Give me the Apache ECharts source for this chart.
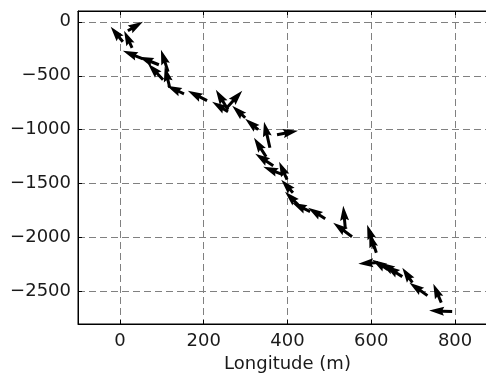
<!DOCTYPE html>
<html><head><meta charset="utf-8">
<script src="https://cdn.jsdelivr.net/npm/echarts@6/dist/echarts.min.js"></script>
<style>html,body{margin:0;padding:0;background:#fff}#c{width:486px;height:374px}</style>
</head><body><div id="c"></div>
<script>
// Axis ranges and labels
const xRange = [-100, 900];
const yRange = [-2800, 100];
const xName = 'Longitude (m)';
// Arrow tails (data units) and vector components (data units)
const arrowX = [19, 7, 29, 55, 93, 103, 115, 119, 153, 208, 258, 253, 258, 299, 330, 358, 375, 349, 366, 389, 399, 413, 425, 454, 490, 538, 554, 612, 607, 616, 640, 657, 674, 698, 734, 767, 793];
const arrowY = [-83, -185, -241, -343, -398, -537, -463, -611, -667, -731, -815, -806, -833, -889, -1000, -1167, -1046, -1250, -1333, -1417, -1463, -1583, -1694, -1759, -1824, -1917, -1991, -2139, -2102, -2231, -2296, -2315, -2361, -2417, -2537, -2602, -2685];
const arrowU = [36, -29, -19, -48, -48, -36, -17, -12, -41, -46, -29, 39, -38, -31, -31, -14, 50, -29, -43, -47, -19, -28, -31, -43, -41, -5, -45, -22, -12, -47, -38, -36, -41, -24, -43, -19, -55];
const arrowV = [83, 139, 158, 74, 74, 148, 204, 194, 74, 92, 185, 167, 92, 111, 102, 241, 37, 176, 111, 74, 167, 120, 120, 83, 102, 213, 130, 259, 148, -10, 92, 84, 102, 139, 120, 176, 9];

const data = arrowX.map((x, i) => [x, arrowY[i], arrowU[i], arrowV[i]]);
const FONT = 'DejaVu Sans';
const chart = echarts.init(document.getElementById('c'), null, {renderer: 'canvas'});
const minus = v => String(v).replace('-', '\u2212');
const gridLine = {show: true, lineStyle: {color: '#808080', width: 1, type: [7, 4]}};
chart.setOption({
  animation: false,
  backgroundColor: '#fff',
  grid: {left: 78, top: 11, width: 419, height: 313, outerBoundsMode: 'none', containLabel: false, show: true, borderColor: '#000', borderWidth: 1, backgroundColor: 'transparent'},
  xAxis: [{
    type: 'value', min: xRange[0], max: xRange[1], splitNumber: 5,
    name: xName, nameLocation: 'middle', nameGap: 27,
    nameTextStyle: {fontFamily: FONT, fontSize: 18, color: '#1a1a1a'},
    axisLine: {show: true, onZero: false, lineStyle: {color: '#000'}},
    axisTick: {show: true, inside: true, length: 4, lineStyle: {color: '#000'}},
    axisLabel: {fontFamily: FONT, fontSize: 18, color: '#1a1a1a', margin: 8, showMinLabel: false, showMaxLabel: false, formatter: minus},
    splitLine: gridLine
  }, {
    type: 'value', position: 'top', min: xRange[0], max: xRange[1], splitNumber: 5,
    axisLine: {show: true, onZero: false, lineStyle: {color: '#000'}},
    axisTick: {show: true, inside: true, length: 4, lineStyle: {color: '#000'}},
    axisLabel: {show: false}, splitLine: {show: false}
  }],
  yAxis: {
    type: 'value', min: yRange[0], max: yRange[1], splitNumber: 5,
    axisLine: {show: true, onZero: false, lineStyle: {color: '#000'}},
    axisTick: {show: true, inside: true, length: 4, lineStyle: {color: '#000'}},
    axisLabel: {fontFamily: FONT, fontSize: 18, color: '#1a1a1a', margin: 7, showMinLabel: false, showMaxLabel: false, formatter: minus},
    splitLine: gridLine
  },
  series: [{
    type: 'custom',
    xAxisIndex: 0,
    encode: {x: 0, y: 1},
    data: data,
    renderItem: function (params, api) {
      const x = api.value(0), y = api.value(1), u = api.value(2), v = api.value(3);
      const p0 = api.coord([x, y]), p1 = api.coord([x + u, y + v]);
      const dx = p1[0] - p0[0], dy = p1[1] - p0[1];
      const L = Math.hypot(dx, dy);
      const c = dx / L, s = dy / L;
      const w = 3, hw = 3 * w, hl = 5 * w, hal = 4.5 * w;
      const local = [[0, -w / 2], [L - hal, -w / 2], [L - hl, -hw / 2], [L, 0], [L - hl, hw / 2], [L - hal, w / 2], [0, w / 2]];
      const pts = local.map(([a, b]) => [p0[0] + a * c - b * s, p0[1] + a * s + b * c]);
      return {type: 'polygon', shape: {points: pts}, style: {fill: '#000'}};
    }
  }]
});
</script></body></html>
